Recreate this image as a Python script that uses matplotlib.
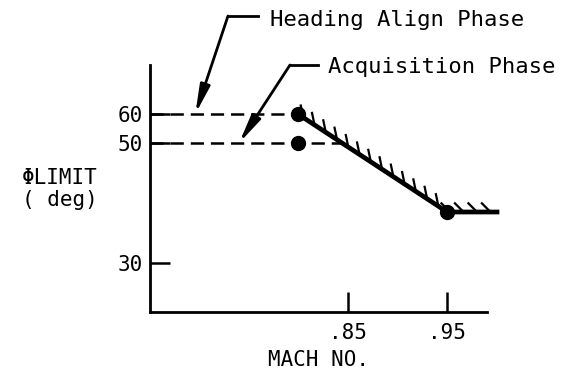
"""
Bank angle limit versus Mach number, with the heading-align and
acquisition phase limits marked on the left.
"""

import numpy as np
import matplotlib
matplotlib.use("Agg")
import matplotlib.pyplot as plt
from matplotlib import patheffects
from matplotlib.lines import Line2D

plt.rcParams['font.family'] = ['DejaVu Sans Mono', 'DejaVu Sans']
plt.rcParams['lines.scale_dashes'] = False

# boundary of the phi limit (deg) against Mach number
mach_boundary = [0.80, 0.95, 1.00]
phi_boundary = [60, 40, 40]

# phase limits held below the break Mach number
phase_mach = 0.80
phase_limits = [60, 50]
phase_names = ['Heading Align Phase', 'Acquisition Phase']
arrow_mach = [0.697, 0.741]

y_ticks = [30, 50, 60]
x_ticks = [0.85, 0.95]
x_ticklabels = ['.85', '.95']

# the phi axis is drawn schematic, not linear
phi_knots = [20, 30, 40, 50, 60, 80]
height_knots = [-2, 49, 100, 169, 198, 256]


def phi_fwd(v):
    return np.interp(v, phi_knots, height_knots)


def phi_inv(h):
    return np.interp(h, height_knots, phi_knots)


W, H = 582, 369


def fpos(x, y):
    # pixel position (from top-left) to figure fraction
    return x / W, 1 - y / H


fig = plt.figure(figsize=(W / 100, H / 100), dpi=100)
ax = fig.add_axes([150 / W, 1 - 312 / H, (497 - 150) / W, 247 / H])

ax.set_yscale('function', functions=(phi_fwd, phi_inv))
ax.set_ylim(phi_inv(0), phi_inv(247))
ax.set_xlim(0.6515, 1.0)

# dashed phase limits
t50 = (phi_fwd(50) - phi_fwd(60)) / (phi_fwd(40) - phi_fwd(60))
dash_ends = [phase_mach, phase_mach + t50 * (mach_boundary[1] - mach_boundary[0])]
for lim, xe in zip(phase_limits, dash_ends):
    ax.plot([ax.get_xlim()[0], xe], [lim, lim], color='k', lw=1.8,
            dashes=(9.5, 5), solid_capstyle='butt', clip_on=False)

# hatched boundary
ax.plot(mach_boundary, phi_boundary, color='k', lw=3.4, clip_on=False,
        solid_joinstyle='miter',
        path_effects=[patheffects.withTickedStroke(angle=135, spacing=9.3,
                                                   length=0.95, linewidth=1.6)])

ax.plot([phase_mach] * len(phase_limits), phase_limits, 'o', color='k',
        ms=10, clip_on=False)
ax.plot([mach_boundary[1]], [phi_boundary[1]], 'o', color='k', ms=10,
        clip_on=False)

# axes styling
for s in ['top', 'right']:
    ax.spines[s].set_visible(False)
for s in ['left', 'bottom']:
    ax.spines[s].set_linewidth(2)
ax.spines['bottom'].set_bounds(0.6515, 0.99)

ax.set_yticks(y_ticks)
ax.set_yticklabels([str(v) for v in y_ticks])
ax.yaxis.set_minor_locator(matplotlib.ticker.NullLocator())
ax.set_xticks(x_ticks)
ax.set_xticklabels(x_ticklabels)
ax.tick_params(direction='in', length=14.4, width=1.8, labelsize=15, pad=5)
ax.tick_params(axis='x', pad=8)

ax.set_xlabel('MACH NO.', fontsize=15)
ax.xaxis.set_label_coords((318 - 150) / 347, -0.194)
ax.xaxis.label.set_va('center')
ax.set_ylabel('\u03a6LIMIT\n( deg)', fontsize=15, rotation=0,
              linespacing=1.1, ha='center', va='center')
ax.yaxis.set_label_coords((60 - 150) / 347, (312 - 189) / 247)

# leaders to the phase limits
leaders = [((258, 16), (228, 16), (270, 20)),
           ((318, 65), (290, 65), (328, 67))]
for (start, bend, tpos), lim, xm, name in zip(leaders, phase_limits,
                                              arrow_mach, phase_names):
    x0, y0 = fpos(*start)
    x1, y1 = fpos(*bend)
    fig.add_artist(Line2D([x0, x1], [y0, y1], transform=fig.transFigure,
                          color='k', lw=2))
    ax.annotate('', xy=(xm, lim), xycoords='data',
                xytext=(x1, y1), textcoords='figure fraction',
                arrowprops=dict(arrowstyle='-|>,head_length=0.85,head_width=0.15',
                                color='k', lw=2, shrinkA=0, shrinkB=0,
                                mutation_scale=20))
    fig.text(*fpos(*tpos), name, fontsize=16, ha='left', va='center')

fig.savefig('out.png', dpi=100)
